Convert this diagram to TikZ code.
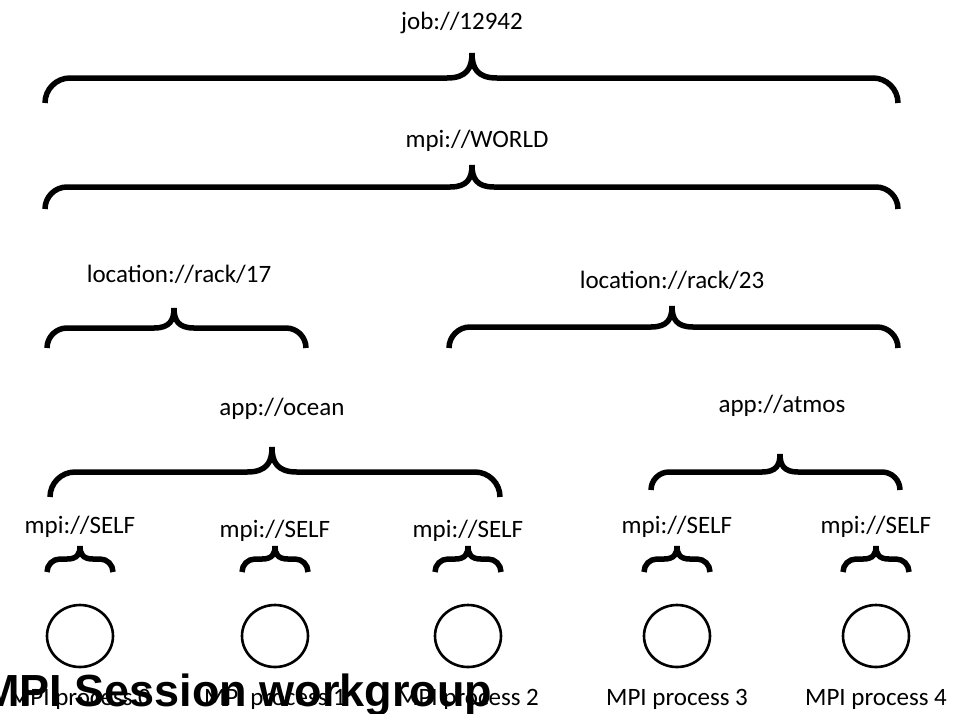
\documentclass[tikz,border=0pt]{standalone}
\usepackage{fontspec}
\setmainfont{Carlito}
\newfontfamily\titlefont{Liberation Sans}
\usetikzlibrary{positioning,shapes.geometric}

% A curly bracket: left x, right x, tip x, bar y, size
\newcommand\grpbrace[5]{%
  \draw[brc] (#1,{#4+#5}) .. controls (#1,{#4+0.45*#5}) and ({#1+0.45*#5},#4) .. ({#1+#5},#4)
    -- ({#3-#5},#4) .. controls ({#3-0.2*#5},#4) and (#3,{#4-0.4*#5}) .. (#3,{#4-#5})
    .. controls (#3,{#4-0.4*#5}) and ({#3+0.2*#5},#4) .. ({#3+#5},#4)
    -- ({#2-#5},#4) .. controls ({#2-0.45*#5},#4) and (#2,{#4+0.45*#5}) .. (#2,{#4+#5});}

\begin{document}
\begin{tikzpicture}[%
    x=1pt, y=-1pt,              % Work in picture units, top-down
    brc/.style={line width=5.5pt},
    lbl/.style={font=\fontsize{25}{30}\selectfont, inner sep=0pt, anchor=base},
    proc/.style={draw, ellipse, line width=2.6pt, minimum width=66pt, minimum height=62pt},
    ttl/.style={font=\titlefont\bfseries\fontsize{45}{50}\selectfont, inner sep=0pt, anchor=base west},
    ]
\useasboundingbox (0,0) rectangle (966,713);
\clip (0,0) rectangle (966,713);
% -------------------------------------------------
% Group labels
\node [lbl] (job)    at (462,29)  {job://12942};
\node [lbl] (world)  at (477,147) {mpi://WORLD};
\node [lbl] (rack17) at (179,282) {location://rack/17};
\node [lbl] (rack23) at (672,288) {location://rack/23};
\node [lbl] (ocean)  at (282,415) {app://ocean};
\node [lbl] (atmos)  at (782,412) {app://atmos};

% Brackets under the labels
\grpbrace{45}{898}{472}{78}{25}
\grpbrace{45}{898}{472}{187}{22}
\grpbrace{47}{306}{174}{328}{20}
\grpbrace{449}{898}{672}{327}{21}
\grpbrace{50}{500}{272}{472}{25}
\grpbrace{651}{900}{780}{472}{18}

% -------------------------------------------------
% The processes, one SELF group each
\foreach \i/\x/\y in {0/80/533, 1/275/537, 2/468/537, 3/677/533, 4/876/533} {
  \node [lbl] (self\i) at (\x,\y) {mpi://SELF};
  \grpbrace{\x-33}{\x+33}{\x}{559}{13}
  \node [proc] (p\i) at (\x,636) {};
  \node [lbl] (name\i) at (\x,705) {MPI process \i};
}

\node [ttl] (title) at (-18,706) {MPI Session workgroup};
% -------------------------------------------------
\end{tikzpicture}
\end{document}
